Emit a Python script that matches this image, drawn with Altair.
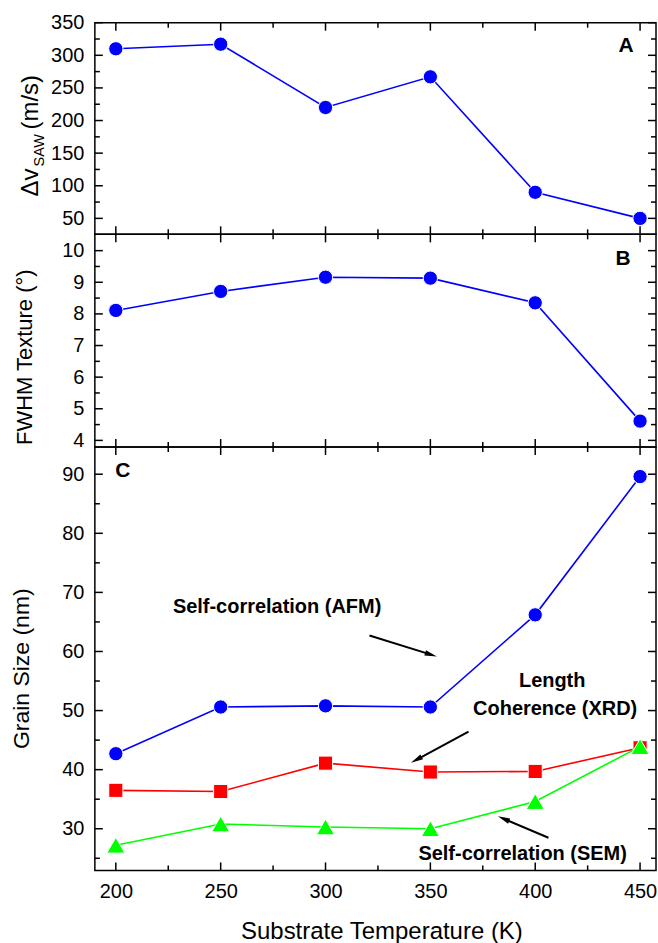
import altair as alt
import pandas as pd

# ---- data -------------------------------------------------------------
temperature = [200, 250, 300, 350, 400, 450]
delta_v_saw = [310, 317, 220, 267, 90, 50]
fwhm_texture = [8.11, 8.71, 9.16, 9.13, 8.35, 4.61]
grain_afm = [42.7, 50.6, 50.8, 50.6, 66.2, 89.6]
grain_xrd = [36.5, 36.3, 41.1, 39.6, 39.7, 43.7]
grain_sem = [27.2, 30.8, 30.3, 30.0, 34.6, 43.9]

x_major = [200, 250, 300, 350, 400, 450]
x_minor = [225, 275, 325, 375, 425]
a_major = [50, 100, 150, 200, 250, 300, 350]
a_minor = [75, 125, 175, 225, 275, 325]
b_major = [4, 5, 6, 7, 8, 9, 10]
b_minor = [4.5, 5.5, 6.5, 7.5, 8.5, 9.5]
c_major = [30, 40, 50, 60, 70, 80, 90]
c_minor = [25, 35, 45, 55, 65, 75, 85]

x_title = "Substrate Temperature (K)"
notes_text = ["Self-correlation (AFM)", "Length", "Coherence (XRD)", "Self-correlation (SEM)"]
notes_x = [276.9, 408.1, 409.5, 394.0]
notes_y = [67.6, 54.95, 50.3, 25.65]

arrow_x0 = [320.95, 368.2, 406.3]
arrow_y0 = [62.7, 46.45, 28.48]
arrow_x1 = [350.3, 343.3, 384.9]
arrow_y1 = [59.46, 41.66, 31.69]
arrow_angle = [108, 241, 293]

FONT = "Liberation Sans"
W = 562
BLUE, RED, GREEN = "#0000ff", "#ff0000", "#00ff00"

xscale = alt.Scale(domain=[190, 457.6], nice=False, zero=False)


def y_axis(values):
    return alt.Axis(values=values, ticks=False, tickSize=0, domain=False,
                    grid=False, labelPadding=11, labelFontSize=20,
                    labelColor="black", title=None)


def series_layers(values, yscale, yax, xax, color, shape, size):
    df = pd.DataFrame({"T": temperature, "value": values})
    base = alt.Chart(df)
    enc = dict(x=alt.X("T:Q", scale=xscale, axis=xax),
               y=alt.Y("value:Q", scale=yscale, axis=yax))
    line = base.mark_line(color=color, strokeWidth=1.6).encode(**enc)
    pts = base.mark_point(
        shape=shape, filled=True, fill=color, stroke="white",
        strokeWidth=1, size=size, opacity=1,
    ).encode(**enc)
    return [line, pts]


def tick_layers(yscale, yax, xax, ymajor, yminor, height):
    layers = []
    for vals, ln in ((ymajor, 8), (yminor, 5)):
        d = alt.Chart(pd.DataFrame({"v": vals}))
        layers.append(d.mark_rule(color="black", strokeWidth=1.5).encode(
            y=alt.Y("v:Q", scale=yscale, axis=yax),
            x=alt.value(0), x2=alt.value(ln)))
        layers.append(d.mark_rule(color="black", strokeWidth=1.5).encode(
            y=alt.Y("v:Q", scale=yscale, axis=yax),
            x=alt.value(W), x2=alt.value(W - ln)))
    for vals, ln in ((x_major, 8), (x_minor, 5)):
        d = alt.Chart(pd.DataFrame({"v": vals}))
        layers.append(d.mark_rule(color="black", strokeWidth=1.5).encode(
            x=alt.X("v:Q", scale=xscale, axis=xax),
            y=alt.value(0), y2=alt.value(ln)))
        layers.append(d.mark_rule(color="black", strokeWidth=1.5).encode(
            x=alt.X("v:Q", scale=xscale, axis=xax),
            y=alt.value(height), y2=alt.value(height - ln)))
    return layers


def text_at(txt, x, y, size, angle=0, align="center", baseline="middle"):
    return alt.Chart(pd.DataFrame({"t": [txt]})).mark_text(
        font=FONT, fontSize=size, angle=angle, align=align,
        baseline=baseline, color="black",
    ).encode(x=alt.value(x), y=alt.value(y), text="t:N")


def letter(txt, xv, yv, yscale, yax, xax):
    return alt.Chart(pd.DataFrame({"t": [txt], "x": [xv], "y": [yv]})).mark_text(
        font=FONT, fontSize=21, fontWeight="bold", color="black",
    ).encode(x=alt.X("x:Q", scale=xscale, axis=xax),
             y=alt.Y("y:Q", scale=yscale, axis=yax), text="t:N")


def anchor(y0):
    return alt.Chart(pd.DataFrame({"a": [0]})).mark_rule(strokeOpacity=0).encode(
        x=alt.value(-94), x2=alt.value(-94), y=alt.value(y0), y2=alt.value(y0 + 10))


# ---- panel A : SAW velocity shift -----------------------------------
HA = 212
ya = alt.Scale(domain=[25.5, 350], nice=False, zero=False)
ya_ax = y_axis(a_major)
panel_a = alt.layer(
    *series_layers(delta_v_saw, ya, ya_ax, None, BLUE, "circle", 205),
    *tick_layers(ya, ya_ax, None, a_major, a_minor, HA),
    text_at("Δv", -57, 174, 24, angle=270, align="left", baseline="alphabetic"),
    text_at("SAW", -51, 144, 14.5, angle=270, align="left", baseline="alphabetic"),
    text_at("(m/s)", -57, 107, 24, angle=270, align="left", baseline="alphabetic"),
    letter("A", 443.3, 314, ya, ya_ax, None),
    anchor(-21),
).properties(width=W, height=HA)

# ---- panel B : texture FWHM -----------------------------------------
HB = 213
yb = alt.Scale(domain=[3.79, 10.515], nice=False, zero=False)
yb_ax = y_axis(b_major)
panel_b = alt.layer(
    *series_layers(fwhm_texture, yb, yb_ax, None, BLUE, "circle", 205),
    *tick_layers(yb, yb_ax, None, b_major, b_minor, HB),
    text_at("FWHM Texture (°)", -63, 123, 22, angle=270, baseline="alphabetic"),
    letter("B", 441.9, 9.73, yb, yb_ax, None),
    anchor(20),
).properties(width=W, height=HB)

# ---- panel C : grain size -------------------------------------------
HC = 424
yc = alt.Scale(domain=[22.95, 94.6], nice=False, zero=False)
yc_ax = y_axis(c_major)
xc_ax = alt.Axis(values=x_major, ticks=False, tickSize=0, domain=False,
                 grid=False, labelPadding=11, labelFontSize=20,
                 labelColor="black", title=x_title, titleFontSize=24,
                 titleFontWeight="normal", titleColor="black",
                 titleX=287, titleY=68, titleAlign="center",
                 titleBaseline="alphabetic")

notes = alt.Chart(pd.DataFrame({"t": notes_text, "x": notes_x, "y": notes_y})).mark_text(
    font=FONT, fontSize=20, fontWeight="bold", color="black",
).encode(x=alt.X("x:Q", scale=xscale, axis=xc_ax),
         y=alt.Y("y:Q", scale=yc, axis=yc_ax), text="t:N")

arrows_df = pd.DataFrame({"x0": arrow_x0, "y0": arrow_y0, "x1": arrow_x1,
                          "y1": arrow_y1, "ang": arrow_angle})
arrow_lines = alt.Chart(arrows_df).mark_rule(color="black", strokeWidth=2).encode(
    x=alt.X("x0:Q", scale=xscale, axis=xc_ax), x2="x1:Q",
    y=alt.Y("y0:Q", scale=yc, axis=yc_ax), y2="y1:Q")
arrow_heads = alt.Chart(arrows_df).mark_point(
    shape="M0,-1L0.45,1L-0.45,1Z", filled=True, fill="black",
    strokeWidth=0, size=150, opacity=1,
).encode(x=alt.X("x1:Q", scale=xscale, axis=xc_ax),
         y=alt.Y("y1:Q", scale=yc, axis=yc_ax),
         angle=alt.Angle("ang:Q", scale=None))

panel_c = alt.layer(
    *series_layers(grain_afm, yc, yc_ax, xc_ax, BLUE, "circle", 205),
    *series_layers(grain_xrd, yc, yc_ax, xc_ax, RED, "square", 200),
    *series_layers(grain_sem, yc, yc_ax, xc_ax, GREEN, "triangle-up", 330),
    *tick_layers(yc, yc_ax, xc_ax, c_major, c_minor, HC),
    text_at("Grain Size (nm)", -66, 222, 23, angle=270, baseline="alphabetic"),
    letter("C", 203.3, 90.5, yc, yc_ax, xc_ax),
    notes, arrow_lines, arrow_heads,
    anchor(20),
).properties(width=W, height=HC)

chart = alt.vconcat(panel_a, panel_b, panel_c, spacing=0, bounds="flush").properties(
    padding={"left": 0, "top": 0, "right": 0, "bottom": 0}
).configure_axis(labelFont=FONT, titleFont=FONT).configure_view(
    stroke="black", strokeWidth=1.5
)

chart.save("out.html", embed_options={"renderer": "svg", "actions": False})
